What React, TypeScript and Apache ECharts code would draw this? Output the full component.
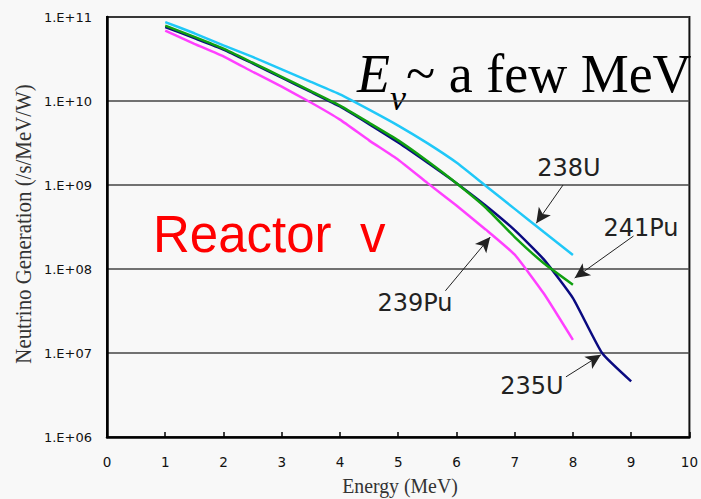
import React, { useEffect, useRef } from "react";
import * as echarts from "echarts";

// Neutrino energy grid (MeV)
const energies = [1, 1.5, 2, 2.5, 3, 3.5, 4, 4.5, 5, 5.5, 6, 6.5, 7, 7.5, 8];
const energies235 = [1, 1.5, 2, 2.5, 3, 3.5, 4, 4.5, 5, 5.5, 6, 6.5, 7, 7.5, 8, 8.5, 9];

// Neutrino generation (/s/MeV/W) per isotope
const u238 = [8.7e10, 6.4e10, 4.6e10, 3.35e10, 2.38e10, 1.69e10, 1.2e10, 7.9e9, 5.1e9, 3.15e9, 1.85e9, 9.8e8, 5.2e8, 2.75e8, 1.47e8];
const pu241 = [7.9e10, 5.8e10, 4.2e10, 2.86e10, 1.94e10, 1.31e10, 8.8e9, 5.5e9, 3.4e9, 1.93e9, 1.05e9, 5.4e8, 2.4e8, 1.17e8, 6.5e7];
const u235 = [7.6e10, 5.6e10, 4.1e10, 2.8e10, 1.9e10, 1.28e10, 8.6e9, 5.3e9, 3.2e9, 1.85e9, 1.05e9, 5.7e8, 2.9e8, 1.3e8, 4.5e7, 1.0e7, 4.6e6];
const pu239 = [6.9e10, 4.8e10, 3.4e10, 2.23e10, 1.48e10, 9.6e9, 6.0e9, 3.4e9, 2.0e9, 1.06e9, 5.7e8, 2.96e8, 1.48e8, 5.1e7, 1.43e7];

// Isotope labels and the curve points their arrows point at: [fromE, fromV, toE, toV]
const isotopeNames = ["238U", "241Pu", "239Pu", "235U"];
const arrowEnds = [
  [7.83, 1.0e9, 7.37, 3.5e8],
  [9.04, 2.47e8, 8.03, 7.8e7],
  [5.81, 5.5e7, 6.58, 2.4e8],
  [7.88, 5.2e6, 8.48, 9.5e6],
];
const labelPos = [
  [569, 168],
  [641, 228],
  [415, 303],
  [532, 386],
];

const zip = (xs: number[], ys: number[]) => xs.map((x, i) => [x, ys[i]]);

const sans = '"DejaVu Sans", Verdana, sans-serif';
const serif = '"Liberation Serif", "Times New Roman", serif';

export default function App() {
  const ref = useRef<HTMLDivElement>(null);

  useEffect(() => {
    if (!ref.current) return;
    const chart = echarts.init(ref.current, null, { renderer: "svg" });

    const lineSeries = (name: string, xs: number[], ys: number[], color: string, z: number) => ({
      name,
      type: "line",
      data: zip(xs, ys),
      showSymbol: false,
      smooth: 0.15,
      z,
      lineStyle: { color, width: 2.5 },
    });

    const arrows = {
      silent: true,
      symbol: ["none", "arrow"],
      symbolSize: [11, 15],
      label: { show: false },
      lineStyle: { color: "#222", width: 1, type: "solid" },
      data: arrowEnds.map((a) => [
        { coord: [a[0], a[1]] },
        { coord: [a[2], a[3]] },
      ]),
    };

    const pu239Series: any = lineSeries("239Pu", energies, pu239, "#ff40ff", 2);
    pu239Series.markLine = arrows;

    chart.setOption({
      animation: false,
      backgroundColor: "#f8f8f8",
      grid: {
        left: 107,
        right: 9,
        top: 17,
        bottom: 62,
        show: true,
        borderColor: "#111",
        borderWidth: 2,
        backgroundColor: "transparent",
      },
      xAxis: {
        type: "value",
        min: 0,
        max: 10,
        interval: 1,
        axisLine: { show: true, lineStyle: { color: "#000", width: 2.5 } },
        axisTick: { show: true, inside: true, length: 5, lineStyle: { color: "#000", width: 1.5 } },
        splitLine: { show: false },
        axisLabel: { color: "#111", fontFamily: sans, fontSize: 13.5, margin: 18 },
      },
      yAxis: {
        type: "log",
        logBase: 10,
        min: 1e6,
        max: 1e11,
        axisLine: { show: true, lineStyle: { color: "#000", width: 2.5 } },
        axisTick: { show: false },
        minorTick: { show: false },
        splitLine: { show: true, lineStyle: { color: "#444", width: 1.5 } },
        axisLabel: {
          color: "#111",
          fontFamily: sans,
          fontSize: 13,
          margin: 15,
          formatter: (v: number) => {
            const e = Math.round(Math.log10(v));
            return "1.E+" + (e < 10 ? "0" + e : String(e));
          },
        },
      },
      series: [
        pu239Series,
        lineSeries("235U", energies235, u235, "#0a0a80", 3),
        lineSeries("241Pu", energies, pu241, "#10a010", 4),
        lineSeries("238U", energies, u238, "#20c8f8", 5),
      ],
      graphic: [
        {
          type: "text",
          x: 23,
          y: 224,
          rotation: Math.PI / 2,
          scaleX: 0.87,
          style: {
            text: "Neutrino Generation (/s/MeV/W)",
            font: `24px ${serif}`,
            fill: "#333",
            align: "center",
            verticalAlign: "middle",
          },
        },
        {
          type: "text",
          x: 400,
          y: 486,
          scaleX: 0.9,
          style: {
            text: "Energy (MeV)",
            font: `22px ${serif}`,
            fill: "#333",
            align: "center",
            verticalAlign: "middle",
          },
        },
        {
          type: "text",
          x: 153,
          y: 234,
          style: {
            text: "Reactor  v",
            font: '51px "Liberation Sans", Arial, sans-serif',
            fill: "#ff0000",
            align: "left",
            verticalAlign: "middle",
          },
        },
        {
          type: "text",
          x: 357,
          y: 74,
          style: { text: "E", font: `italic 54px ${serif}`, fill: "#000", align: "left", verticalAlign: "middle" },
        },
        {
          type: "text",
          x: 390,
          y: 98,
          style: { text: "ν", font: `italic 36px ${serif}`, fill: "#000", align: "left", verticalAlign: "middle" },
        },
        {
          type: "text",
          x: 406,
          y: 74,
          style: { text: "~ a few MeV", font: `54px ${serif}`, fill: "#000", align: "left", verticalAlign: "middle" },
        },
        ...isotopeNames.map((t, i) => ({
          type: "text",
          x: labelPos[i][0],
          y: labelPos[i][1],
          style: { text: t, font: `24px ${sans}`, fill: "#222", align: "center", verticalAlign: "middle" },
        })),
      ],
    });

    return () => chart.dispose();
  }, []);

  return (
    <div
      ref={ref}
      style={{ position: "fixed", left: 0, top: 0, width: 701, height: 499 }}
    />
  );
}
